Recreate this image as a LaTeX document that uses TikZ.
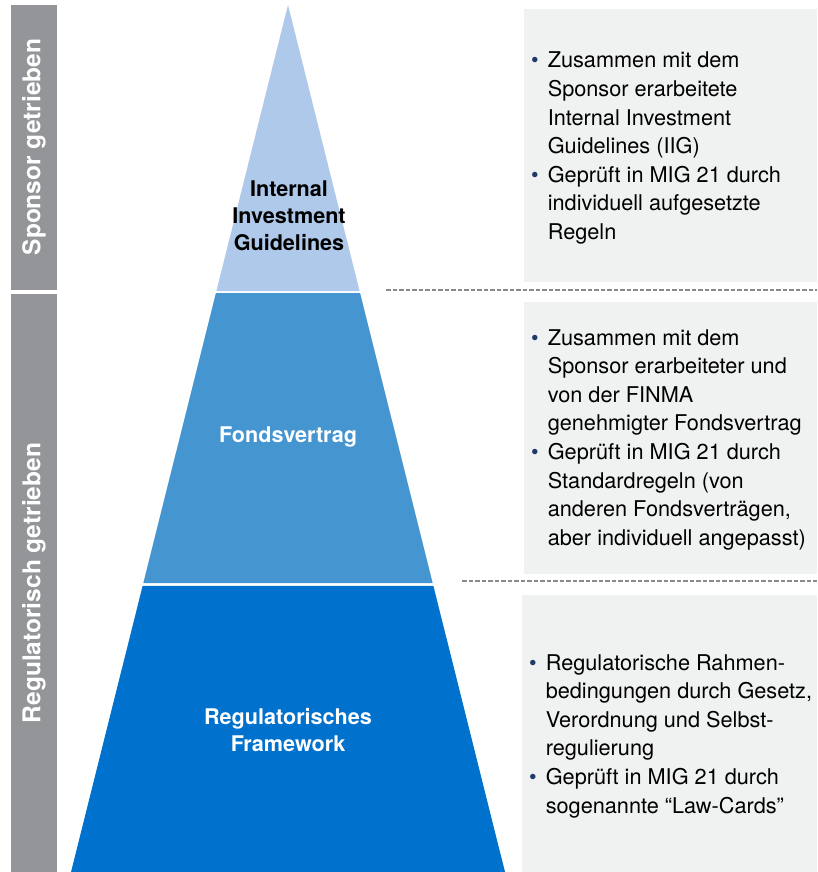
\documentclass[tikz,border=0pt]{standalone}
\usepackage{fontspec}
\setmainfont{TeX Gyre Heros}
\usepackage{tikz}
\usetikzlibrary{calc,positioning}

\definecolor{lightblue}{HTML}{AFC9EA}
\definecolor{midblue}{HTML}{4595D1}
\definecolor{darkblue}{HTML}{0071CD}
\definecolor{bargrey}{HTML}{939598}
\definecolor{boxgrey}{HTML}{F0F1F1}
\definecolor{dashgrey}{HTML}{8A8A8A}
\definecolor{bulletblue}{HTML}{1F3A68}

\newcommand{\bul}{\textcolor{bulletblue}{\textbullet}}

\begin{document}
\begin{tikzpicture}[x=1pt,y=-1pt]
	\tikzstyle{sidebar} = [fill=bargrey, draw=none]
	\tikzstyle{infobox} = [fill=boxgrey, draw=none]
	\tikzstyle{sidetext} = [rotate=90, text=white, font=\fontsize{24.5}{28}\selectfont\bfseries]
	\tikzstyle{layertext} = [align=center, font=\fontsize{21.6}{27}\selectfont\bfseries]
	\tikzstyle{infotext} = [anchor=base west, inner sep=0pt, font=\fontsize{21.7}{28.6}\selectfont]
	\tikzstyle{sep} = [draw=dashgrey, line width=1.3pt, dash pattern=on 4.5pt off 2pt]
	
	\useasboundingbox (0,0) rectangle (817,872);
	
	% left bars
	\fill [sidebar] (11,5) rectangle (57,290);
	\fill [sidebar] (11,294) rectangle (57,872);
	\node [sidetext] (sponsor) at (34,147) {Sponsor getrieben};
	\node [sidetext] (regul) at (34,583) {Regulatorisch getrieben};
	
	% pyramid
	\coordinate (apex) at (288,5);
	\coordinate (bl) at (71,872);
	\coordinate (br) at (505,872);
	\fill [lightblue] (apex) -- ($(apex)!0.3299!(bl)$) -- ($(apex)!0.3299!(br)$) -- cycle;
	\fill [midblue] ($(apex)!0.3322!(bl)$) -- ($(apex)!0.6667!(bl)$) -- ($(apex)!0.6667!(br)$) -- ($(apex)!0.3322!(br)$) -- cycle;
	\fill [darkblue] ($(apex)!0.6701!(bl)$) -- (bl) -- (br) -- ($(apex)!0.6701!(br)$) -- cycle;
	
	\node [layertext] (iig) at (289,216) {Internal\\Investment\\Guidelines};
	\node [layertext, text=white] (fv) at (288,437) {Fondsvertrag};
	\node [layertext, text=white] (rf) at (288,730) {Regulatorisches\\Framework};
	
	% info boxes
	\fill [infobox] (524,9) rectangle (817,282);
	\fill [infobox] (524,302) rectangle (817,574);
	\fill [infobox] (522,595) rectangle (817,872);
	
	\coordinate (d1) at (386,290);
	\coordinate (d1e) at (817,290);
	\coordinate (d2) at (462,581);
	\coordinate (d2e) at (817,581);
	\draw [sep] (d1) -- (d1e);
	\draw [sep] (d2) -- (d2e);
	
	\node [infotext] (txt1) at (531,68) {\begin{tabular}[t]{@{}l@{\hspace{9pt}}l@{}}
		\bul & Zusammen mit dem\\
		& Sponsor erarbeitete\\
		& Internal Investment\\
		& Guidelines (IIG)\\
		\bul & Geprüft in MIG 21 durch\\
		& individuell aufgesetzte\\
		& Regeln
	\end{tabular}};
	\node [infotext] (txt2) at (531,345) {\begin{tabular}[t]{@{}l@{\hspace{9pt}}l@{}}
		\bul & Zusammen mit dem\\
		& Sponsor erarbeiteter und\\
		& von der FINMA\\
		& genehmigter Fondsvertrag\\
		\bul & Geprüft in MIG 21 durch\\
		& Standardregeln (von\\
		& anderen Fondsverträgen,\\
		& aber individuell angepasst)
	\end{tabular}};
	\node [infotext] (txt3) at (529,670) {\begin{tabular}[t]{@{}l@{\hspace{9pt}}l@{}}
		\bul & Regulatorische Rahmen-\\
		& bedingungen durch Gesetz,\\
		& Verordnung und Selbst-\\
		& regulierung\\
		\bul & Geprüft in MIG 21 durch\\
		& sogenannte “Law-Cards”
	\end{tabular}};
	
\end{tikzpicture}
\end{document}
